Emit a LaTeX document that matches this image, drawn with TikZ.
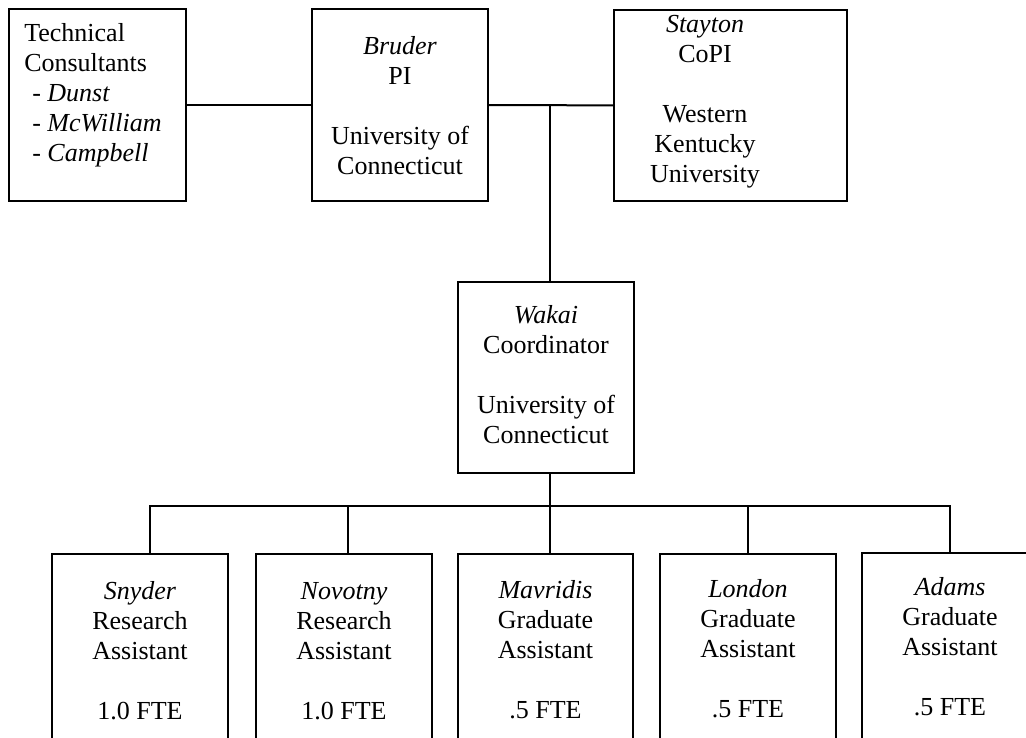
\documentclass[tikz,border=0pt]{standalone}
\usepackage{fontspec}
\setmainfont{Liberation Serif}
\begin{document}
\begin{tikzpicture}[x=0.75pt,y=-0.75pt,
  every node/.style={font=\fontsize{19.5pt}{22.5pt}\selectfont},
  box/.style={draw,line width=1.5pt,inner sep=0pt,minimum width=132pt},
  txt/.style={align=center,anchor=base,inner sep=0pt},
  conn/.style={line width=1.5pt}]
\useasboundingbox (0,0) rectangle (1026,738);
\clip (0,0) rectangle (1026,738);
% boxes
\node[box,minimum width=132.4pt,minimum height=144pt] (tech) at (97.75,105) {};
\node[box,minimum height=144pt] (bruder) at (400,105) {};
\node[box,minimum width=174.75pt,minimum height=143.25pt] (stayton) at (730.5,105.5) {};
\node[box,minimum height=143.25pt] (wakai) at (546,377.5) {};
\node[box,minimum height=184.5pt] (snyder) at (140,677) {};
\node[box,minimum height=184.5pt] (novotny) at (344,677) {};
\node[box,minimum width=131.25pt,minimum height=184.5pt] (mavridis) at (545.5,677) {};
\node[box,minimum height=184.5pt] (london) at (748,677) {};
\node[box,minimum height=184.5pt] (adams) at (950,676) {};
% texts (anchored at the baseline of the last line)
\node[align=left,anchor=base west,inner sep=0pt] (techt) at (24,162)
  {Technical\\Consultants\\\hspace{6pt}- \textit{Dunst}\\\hspace{6pt}- \textit{McWilliam}\\\hspace{6pt}- \textit{Campbell}};
\node[txt] (brudert) at (400,175) {\textit{Bruder}\\PI\\[22.5pt]University of\\Connecticut};
\node[txt] (staytont) at (705,183) {\textit{Stayton}\\CoPI\\[22.5pt]Western\\Kentucky\\University};
\node[txt] (wakait) at (546,443) {\textit{Wakai}\\Coordinator\\[22.5pt]University of\\Connecticut};
\node[txt] (snydert) at (140,719) {\textit{Snyder}\\Research\\Assistant\\[22.5pt]1.0 FTE};
\node[txt] (novotnyt) at (344,719) {\textit{Novotny}\\Research\\Assistant\\[22.5pt]1.0 FTE};
\node[txt] (mavridist) at (545.5,718) {\textit{Mavridis}\\Graduate\\Assistant\\[22.5pt].5 FTE};
\node[txt] (londont) at (748,717) {\textit{London}\\Graduate\\Assistant\\[22.5pt].5 FTE};
\node[txt] (adamst) at (950,715) {\textit{Adams}\\Graduate\\Assistant\\[22.5pt].5 FTE};
% connectors
\coordinate (j1) at (550,106);
\coordinate (bus) at (550,506);
\coordinate (bl) at (150,506);
\coordinate (b2) at (348,506);
\coordinate (b4) at (748,506);
\coordinate (br) at (950,506);
\draw[conn] (tech) -- (bruder);
\draw[conn] (bruder) -- (stayton);
\draw[conn] (j1) -- (j1 |- wakai.north);
\draw[conn] (bus |- wakai.south) -- (bus |- mavridis.north);
\draw[conn] (bl |- snyder.north) -- (bl) -- (br) -- (br |- adams.north);
\draw[conn] (b2) -- (b2 |- novotny.north);
\draw[conn] (b4) -- (b4 |- london.north);
\end{tikzpicture}
\end{document}
